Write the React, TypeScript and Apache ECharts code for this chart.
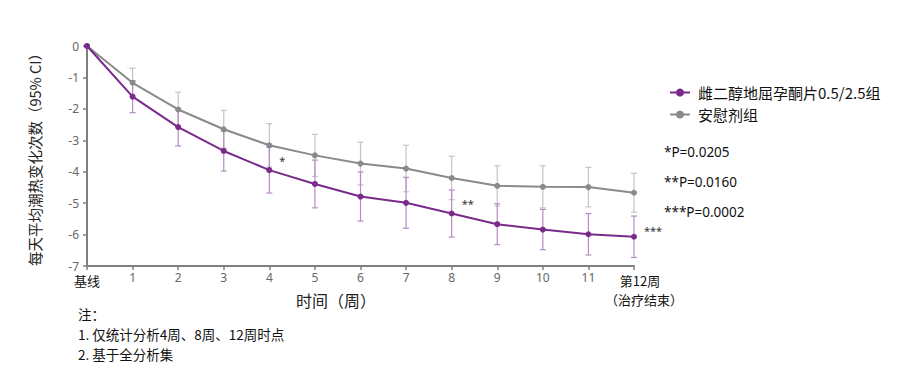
import React, { useEffect, useRef } from "react";
import * as echarts from "echarts";

const weeks = ["0", "1", "2", "3", "4", "5", "6", "7", "8", "9", "10", "11", "12"];
const drugMean = [0, -1.61, -2.58, -3.34, -3.95, -4.39, -4.79, -4.99, -5.33, -5.67, -5.84, -5.99, -6.07];
const drugHalfCI = [0, 0.51, 0.6, 0.64, 0.73, 0.76, 0.78, 0.81, 0.75, 0.65, 0.64, 0.66, 0.66];
const placeboMean = [0, -1.17, -2.02, -2.65, -3.16, -3.48, -3.74, -3.9, -4.2, -4.45, -4.48, -4.49, -4.67];
const placeboHalfCI = [0, 0.46, 0.55, 0.6, 0.69, 0.67, 0.68, 0.74, 0.69, 0.64, 0.67, 0.63, 0.62];
const seriesNames = ["雌二醇地屈孕酮片0.5/2.5组", "安慰剂组"];
const sigMarks: Record<number, string> = { 4: "*", 8: "**", 12: "***" };
const pValues = ["*P=0.0205", "**P=0.0160", "***P=0.0002"];
const notes = ["注：", "1. 仅统计分析4周、8周、12周时点", "2. 基于全分析集"];

const PURPLE = "#7a2a8a";
const PURPLE_LIGHT = "#b48cc4";
const GRAY = "#8a8a8a";
const GRAY_LIGHT = "#c4c4c4";
const FONT = "'Noto Sans', 'Noto Sans CJK SC', sans-serif";
const CJK = "'Noto Sans CJK SC', sans-serif";

function errorSeries(name: string, mean: number[], half: number[], color: string) {
  const data = weeks
    .map((_, i) => i)
    .filter((i) => i > 0)
    .map((i) => [i, mean[i] - half[i], mean[i] + half[i]]);
  return {
    type: "custom",
    name: name + "_err",
    z: 1,
    silent: true,
    data,
    renderItem: (params: any, api: any) => {
      const x = api.value(0);
      const lo = api.coord([x, api.value(1)]);
      const hi = api.coord([x, api.value(2)]);
      const cap = 3;
      const style = { stroke: color, lineWidth: 1.2 };
      return {
        type: "group",
        children: [
          { type: "line", shape: { x1: lo[0], y1: lo[1], x2: hi[0], y2: hi[1] }, style },
          { type: "line", shape: { x1: lo[0] - cap, y1: lo[1], x2: lo[0] + cap, y2: lo[1] }, style },
          { type: "line", shape: { x1: hi[0] - cap, y1: hi[1], x2: hi[0] + cap, y2: hi[1] }, style },
        ],
      };
    },
  };
}

export default function App() {
  const ref = useRef<HTMLDivElement>(null);
  useEffect(() => {
    if (!ref.current) return;
    const chart = echarts.init(ref.current, undefined, { renderer: "svg" });
    const drugData = drugMean.map((v, i) => {
      const item: any = { value: v };
      if (sigMarks[i]) {
        item.label = {
          show: true,
          formatter: sigMarks[i],
          position: "right",
          offset: i === 12 ? [2, -6] : [2, -10],
          color: "#333",
          fontSize: 11,
          fontFamily: FONT,
        };
      }
      return item;
    });
    chart.setOption({
      animation: false,
      grid: { left: 87, right: 276, top: 46, bottom: 115 },
      legend: {
        orient: "vertical",
        left: 664,
        top: 80,
        itemWidth: 20,
        itemHeight: 10,
        itemGap: 7,
        data: seriesNames,
        textStyle: { fontSize: 15, color: "#111", fontFamily: CJK, padding: [0, 0, 0, 3] },
      },
      xAxis: {
        type: "category",
        data: weeks,
        boundaryGap: false,
        splitLine: { show: false },
        axisLine: { show: true, onZero: false, lineStyle: { color: "#7f7f7f", width: 2 } },
        axisTick: { show: true, length: 4, interval: 0, alignWithLabel: true, lineStyle: { color: "#7f7f7f", width: 1.5 } },
        axisLabel: {
          interval: 0,
          color: "#666",
          fontSize: 12,
          fontFamily: FONT,
          margin: 5,
          formatter: (v: string) => {
            if (v === "0") return "{a|基线}";
            if (v === "12") return "{c|第12周}\n{b|（治疗结束）}";
            return v;
          },
          rich: {
            a: { color: "#111", fontSize: 13, fontFamily: CJK, lineHeight: 19 },
            b: { color: "#111", fontSize: 13, fontFamily: CJK, lineHeight: 19, padding: [0, 0, 0, 20] },
            c: { color: "#111", fontSize: 13, fontFamily: CJK, lineHeight: 19, padding: [0, 0, 0, 12] },
          },
        },
      },
      yAxis: {
        type: "value",
        min: -7,
        max: 0,
        interval: 1,
        splitLine: { show: false },
        axisLine: { show: true, onZero: false, lineStyle: { color: "#7f7f7f", width: 2 } },
        axisTick: { show: true, length: 4, lineStyle: { color: "#7f7f7f", width: 1.5 } },
        axisLabel: { color: "#666", fontSize: 12, fontFamily: FONT, margin: 8 },
        name: "每天平均潮热变化次数（95% CI）",
        nameLocation: "middle",
        nameGap: 45,
        nameTextStyle: { fontSize: 14.5, color: "#222", fontFamily: CJK },
      },
      graphic: [
        {
          type: "text",
          left: 296,
          top: 292,
          style: { text: "时间（周）", fontSize: 16, fill: "#222", fontFamily: CJK },
        },
        ...pValues.map((t, i) => ({
          type: "text",
          left: 664,
          top: 145 + i * 30,
          style: { text: t, fontSize: 13.5, fill: "#111", fontFamily: FONT },
        })),
        ...notes.map((t, i) => ({
          type: "text",
          left: 78,
          top: 307 + i * 20,
          style: { text: t, fontSize: 13.5, fill: "#111", fontFamily: CJK },
        })),
      ],
      series: [
        errorSeries(seriesNames[1], placeboMean, placeboHalfCI, GRAY_LIGHT),
        errorSeries(seriesNames[0], drugMean, drugHalfCI, PURPLE_LIGHT),
        {
          type: "line",
          name: seriesNames[1],
          z: 3,
          data: placeboMean,
          symbol: "circle",
          symbolSize: 6,
          color: GRAY,
          lineStyle: { color: GRAY, width: 2 },
          itemStyle: { color: GRAY },
        },
        {
          type: "line",
          name: seriesNames[0],
          z: 4,
          data: drugData,
          symbol: "circle",
          symbolSize: 6,
          color: PURPLE,
          lineStyle: { color: PURPLE, width: 2 },
          itemStyle: { color: PURPLE },
        },
      ],
    });
    return () => chart.dispose();
  }, []);
  return (
    <div
      ref={ref}
      style={{ position: "absolute", left: 0, top: 0, width: 910, height: 381, background: "#fff" }}
    />
  );
}
